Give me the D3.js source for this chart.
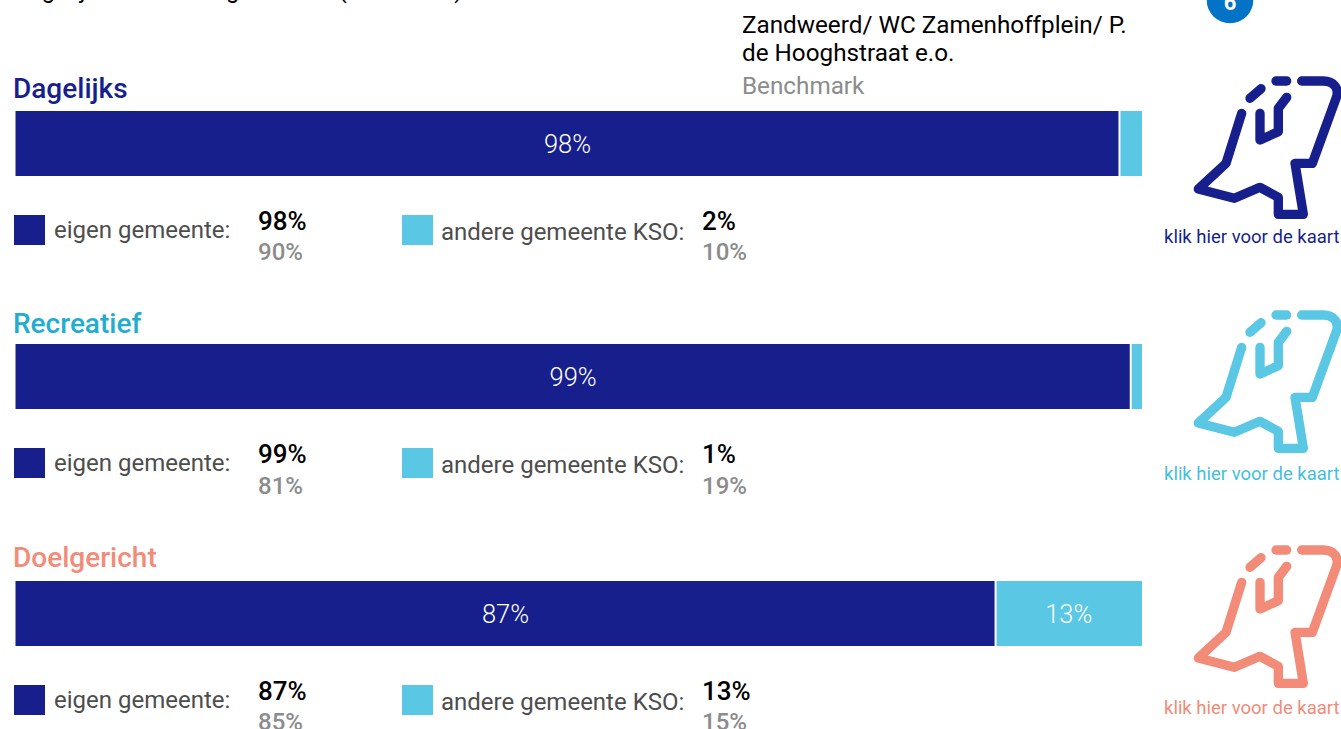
<!DOCTYPE html>
<html><head><meta charset="utf-8">
<script src="https://cdn.jsdelivr.net/npm/d3@7"></script>
<style>html,body{margin:0;padding:0;background:#fff;overflow:hidden}svg{display:block}text{font-family:Roboto,sans-serif}</style>
</head><body><div id="c"></div>
<script>
const categories=["Dagelijks","Recreatief","Doelgericht"];
const eigen=[98,99,87];
const andere=[2,1,13];
const benchEigen=[90,81,85];
const benchAndere=[10,19,15];
const titleColors=["#161f8c","#22add0","#f28b78"];
const iconColors=["#161f8c","#5ac8e4","#f28b78"];
const linkColors=["#161f8c","#45bfdd","#f28b78"];
const legendNames=["eigen gemeente:","andere gemeente KSO:"];
const seriesColors=["#161f8c","#5ac8e4"];
const W=1341,H=729;
const barTops=[111,344,581];
const titleBase=[98,333,567];
const iconShift=[0,234,469];
const linkBase=[243,480,714];
const barH=65;
const svg=d3.select("#c").append("svg").attr("width",W).attr("height",H);
const x=d3.scaleLinear().domain([0,100]).range([15.5,1142]);

svg.append("text").attr("x",13).attr("y",-2).attr("font-size",24).attr("fill","#000").text("Dagelijks binnen de gemeente (aandeel %)");
svg.append("text").attr("x",742).attr("y",33).attr("font-size",24.25).attr("fill","#000").text("Zandweerd/ WC Zamenhoffplein/ P.");
svg.append("text").attr("x",742).attr("y",61).attr("font-size",24.25).attr("fill","#000").text("de Hooghstraat e.o.");
svg.append("text").attr("x",742).attr("y",94).attr("font-size",24.25).attr("fill","#8c8c8c").text("Benchmark");

svg.append("circle").attr("cx",1230).attr("cy",0).attr("r",23.3).attr("fill","#0273c6");
svg.append("text").attr("x",1230).attr("y",10).attr("text-anchor","middle").attr("font-size",22).attr("font-weight",700).attr("fill","#fff").text("6");

const mapOutline="M275,340L228,490L145,567L253,595L330,562L385,592L385,643L460,643L435,490L487,490L558,295C570,265 550,243 520,243L455,243";
const mapInner="M330,340L330,420L385,395L385,325L410,292";
const mapDash1="M300,295L333,266";
const mapDash2="M378,243L410,243";

categories.forEach((c,i)=>{
  const t=barTops[i];
  svg.append("text").attr("x",13).attr("y",titleBase[i]).attr("font-size",28).attr("font-weight",500).attr("fill",titleColors[i]).text(c);
  const split=x(eigen[i]);
  svg.append("rect").attr("x",x(0)).attr("y",t).attr("width",split-1-x(0)).attr("height",barH).attr("fill",seriesColors[0]);
  svg.append("rect").attr("x",split+1).attr("y",t).attr("width",x(100)-split-1).attr("height",barH).attr("fill",seriesColors[1]);
  svg.append("text").attr("x",(x(0)+split)/2).attr("y",t+42).attr("text-anchor","middle").attr("font-size",25.5).attr("font-weight",300).attr("fill","#fff").text(eigen[i]+"%");
  if(andere[i]>=5) svg.append("text").attr("x",(split+x(100))/2).attr("y",t+42).attr("text-anchor","middle").attr("font-size",25.5).attr("font-weight",300).attr("fill","#fff").text(andere[i]+"%");

  const ly=t+104;
  const bOff=i===1?1:0;
  svg.append("rect").attr("x",14).attr("y",ly).attr("width",31).attr("height",30).attr("fill",seriesColors[0]);
  svg.append("text").attr("x",54).attr("y",ly+23).attr("font-size",24).attr("fill","#4d4d4d").text(legendNames[0]);
  svg.append("text").attr("x",258).attr("y",ly+15).attr("font-size",26).attr("font-weight",500).attr("fill","#000").text(eigen[i]+"%");
  svg.append("text").attr("x",258).attr("y",ly+45+bOff).attr("font-size",24).attr("font-weight",500).attr("fill","#8c8c8c").text(benchEigen[i]+"%");
  svg.append("rect").attr("x",402).attr("y",ly).attr("width",31).attr("height",30).attr("fill",seriesColors[1]);
  svg.append("text").attr("x",441).attr("y",ly+25).attr("font-size",24).attr("fill","#4d4d4d").text(legendNames[1]);
  svg.append("text").attr("x",702).attr("y",ly+15).attr("font-size",26).attr("font-weight",500).attr("fill","#000").text(andere[i]+"%");
  svg.append("text").attr("x",702).attr("y",ly+45+bOff).attr("font-size",24).attr("font-weight",500).attr("fill","#8c8c8c").text(benchAndere[i]+"%");

  const g=svg.append("g").attr("transform",`translate(1150,${iconShift[i]}) scale(${1/3})`).attr("fill","none").attr("stroke",iconColors[i]).attr("stroke-width",28).attr("stroke-linecap","round").attr("stroke-linejoin","round");
  [mapOutline,mapInner,mapDash1,mapDash2].forEach(d=>g.append("path").attr("d",d));
  svg.append("text").attr("x",1164).attr("y",linkBase[i]).attr("font-size",18.5).attr("fill",linkColors[i]).text("klik hier voor de kaart");
});
</script></body></html>
